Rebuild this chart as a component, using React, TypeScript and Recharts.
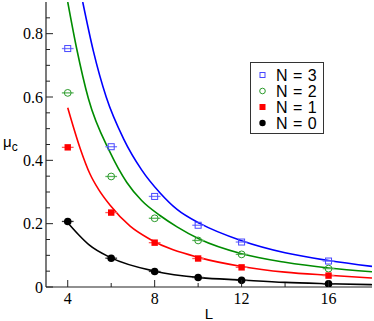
import React from 'react';
import { ComposedChart, Line, Scatter, XAxis, YAxis, ErrorBar, Legend } from 'recharts';

// ---- axis ticks ----
const xMajorTicks = [4, 8, 12, 16];
const xMinorTicks = [6, 10, 14];
const yMajorTicks = [0, 0.2, 0.4, 0.6, 0.8];
const yMinorTicks = [0.05, 0.1, 0.15, 0.25, 0.3, 0.35, 0.45, 0.5, 0.55, 0.65, 0.7, 0.75, 0.85];
const xDomain = [3, 18];
const yDomain = [0, 0.9];

// ---- legend ----
const seriesNames = ['N = 3', 'N = 2', 'N = 1', 'N = 0'];
const seriesColors = ['#0000ff', '#008c00', '#ff0000', '#000000'];
const markerColors = ['#4848ff', '#2a9a2a', '#ff0000', '#000000'];
const barColors = ['#7a7aff', '#5cb45c', '#ff5a5a', '#333333'];

// ---- measured points ----
const sizesL = [4, 6, 8, 10, 12, 16];
const muN3 = [0.753, 0.443, 0.286, 0.195, 0.142, 0.082];
const muN2 = [0.613, 0.349, 0.217, 0.147, 0.103, 0.058];
const muN1 = [0.441, 0.235, 0.14, 0.09, 0.062, 0.036];
const muN0 = [0.207, 0.091, 0.049, 0.03, 0.021, 0.01];
const errL = [0.27, 0.27, 0.27, 0.27, 0.27, 0.27];

// ---- fitted curves ----
const fitN3L = [4.69, 5.18, 5.77, 6.57, 7.4, 8.25, 9.03, 10.1, 12, 14, 16, 18];
const fitN3Mu = [0.9, 0.745, 0.6, 0.468, 0.37, 0.297, 0.245, 0.2, 0.146, 0.108, 0.0835, 0.065];
const fitN2L = [4.0, 4.42, 4.95, 5.95, 6.72, 7.4, 8.26, 9.03, 10.1, 12, 14, 16, 18];
const fitN2Mu = [0.9, 0.75, 0.595, 0.425, 0.33, 0.273, 0.225, 0.19, 0.15, 0.105, 0.078, 0.06, 0.048];
const fitN1L = [4.0, 4.58, 5.03, 5.41, 5.95, 6.87, 7.8, 10.1, 12, 14, 16, 18];
const fitN1Mu = [0.566, 0.436, 0.356, 0.309, 0.258, 0.192, 0.15, 0.092, 0.065, 0.047, 0.037, 0.0285];
const fitN0L = [4.0, 4.5, 5.0, 6, 8, 10.1, 12, 14, 16, 18];
const fitN0Mu = [0.203, 0.165, 0.132, 0.092, 0.05, 0.0295, 0.022, 0.0146, 0.0105, 0.0073];

const toPoints = (mu: number[]) => sizesL.map((L, i) => ({ L, mu: mu[i], err: errL[i] }));
const toCurve = (Ls: number[], mu: number[]) => Ls.map((L, i) => ({ L, mu: mu[i] }));

const pointSets = [toPoints(muN3), toPoints(muN2), toPoints(muN1), toPoints(muN0)];
const curveSets = [
  toCurve(fitN3L, fitN3Mu),
  toCurve(fitN2L, fitN2Mu),
  toCurve(fitN1L, fitN1Mu),
  toCurve(fitN0L, fitN0Mu),
];

const frame = '#222';
const serif = "'Liberation Serif', 'Times New Roman', serif";
const sans = "'Liberation Sans', Arial, sans-serif";

const isIn = (arr: number[], v: number) => arr.some((a) => Math.abs(a - v) < 1e-9);
const xTicks = [...xMajorTicks, ...xMinorTicks].sort((a, b) => a - b);
const yTicks = [...yMajorTicks, ...yMinorTicks].sort((a, b) => a - b);

const BottomTick = (props: any) => {
  const { x, y, payload } = props;
  const v = payload.value;
  const major = isIn(xMajorTicks, v);
  return (
    <g>
      <line x1={x} x2={x} y1={y} y2={y - (major ? 7 : 4)} stroke={frame} strokeWidth={1} />
      {major && (
        <text x={x} y={y + 16.5} textAnchor="middle" style={{ fontFamily: serif, fontSize: 16 }} fill="#000">
          {v}
        </text>
      )}
    </g>
  );
};

const TopTick = (props: any) => {
  const { x, y, payload } = props;
  const major = isIn(xMajorTicks, payload.value);
  return <line x1={x} x2={x} y1={y} y2={y + (major ? 7 : 4)} stroke={frame} strokeWidth={1} />;
};

const LeftTick = (props: any) => {
  const { x, y, payload } = props;
  const v = payload.value;
  const major = isIn(yMajorTicks, v);
  return (
    <g>
      <line x1={x} x2={x + (major ? 7 : 4)} y1={y} y2={y} stroke={frame} strokeWidth={1} />
      {major && (
        <text x={x - 3} y={y + 5.5} textAnchor="end" style={{ fontFamily: serif, fontSize: 16 }} fill="#000">
          {v === 0 ? '0' : v.toFixed(1)}
        </text>
      )}
    </g>
  );
};

const RightTick = (props: any) => {
  const { x, y, payload } = props;
  const major = isIn(yMajorTicks, payload.value);
  return <line x1={x} x2={x - (major ? 7 : 4)} y1={y} y2={y} stroke={frame} strokeWidth={1} />;
};

const makeShape = (idx: number) => (props: any) => {
  const { cx, cy } = props;
  const c = markerColors[idx];
  if (idx === 0) return <rect x={cx - 3} y={cy - 3} width={6} height={6} fill="none" stroke={c} strokeWidth={1} />;
  if (idx === 1) return <circle cx={cx} cy={cy} r={3.4} fill="none" stroke={c} strokeWidth={1} />;
  if (idx === 2) return <rect x={cx - 3.2} y={cy - 3.2} width={6.4} height={6.4} fill={c} />;
  return <circle cx={cx} cy={cy} r={3.8} fill={c} />;
};

const LegendSymbol = ({ idx, cx, cy }: { idx: number; cx: number; cy: number }) => {
  const c = markerColors[idx];
  if (idx === 0) return <rect x={cx - 2.5} y={cy - 2.5} width={5} height={5} fill="none" stroke={c} strokeWidth={1} />;
  if (idx === 1) return <circle cx={cx} cy={cy} r={2.8} fill="none" stroke={c} strokeWidth={1} />;
  if (idx === 2) return <rect x={cx - 3} y={cy - 3} width={6} height={6} fill={c} />;
  return <circle cx={cx} cy={cy} r={3.2} fill={c} />;
};

const renderLegend = () => (
  <div
    style={{
      width: 74,
      height: 72,
      border: '1px solid #333',
      background: '#fff',
      boxSizing: 'border-box',
    }}
  >
    <svg width={72} height={70} style={{ display: 'block' }}>
      {seriesNames.map((name, i) => (
        <g key={name}>
          <LegendSymbol idx={i} cx={11.5} cy={12 + i * 16} />
          <text
            x={25}
            y={12 + i * 16 + 5.6}
            style={{ fontFamily: sans, fontSize: 16, letterSpacing: 0.5 }}
            fill="#000"
          >
            {name}
          </text>
        </g>
      ))}
    </svg>
  </div>
);

export default function App() {
  return (
    <div style={{ position: 'absolute', left: 0, top: 0 }}>
      <ComposedChart width={374} height={321} margin={{ top: 2, right: 2, bottom: 0, left: 0 }}>
        <XAxis
          xAxisId="x"
          dataKey="L"
          type="number"
          orientation="bottom"
          domain={xDomain}
          allowDataOverflow
          ticks={xTicks}
          interval={0}
          tickSize={0}
          tickMargin={0}
          tickLine={false}
          axisLine={{ stroke: frame, strokeWidth: 1.2 }}
          tick={<BottomTick />}
          height={34}
          label={{
            content: () => (
              <text x={209} y={318.5} textAnchor="middle" style={{ fontFamily: sans, fontSize: 15 }} fill="#000">
                L
              </text>
            ),
          }}
        />
        <XAxis
          xAxisId="top"
          dataKey="L"
          type="number"
          orientation="top"
          domain={xDomain}
          allowDataOverflow
          ticks={xTicks}
          interval={0}
          tickSize={0}
          tickMargin={0}
          tickLine={false}
          axisLine={{ stroke: frame, strokeWidth: 1.2 }}
          tick={<TopTick />}
          height={0}
        />
        <YAxis
          yAxisId="y"
          type="number"
          orientation="left"
          domain={yDomain}
          allowDataOverflow
          ticks={yTicks}
          interval={0}
          tickSize={0}
          tickMargin={0}
          tickLine={false}
          axisLine={{ stroke: frame, strokeWidth: 1.2 }}
          tick={<LeftTick />}
          width={46}
          label={{
            content: () => (
              <text x={3} y={147} style={{ fontFamily: sans, fontSize: 15 }} fill="#000">
                μ
                <tspan style={{ fontSize: 12 }} dy={4}>
                  c
                </tspan>
              </text>
            ),
          }}
        />
        <YAxis
          yAxisId="right"
          type="number"
          orientation="right"
          domain={yDomain}
          allowDataOverflow
          ticks={yTicks}
          interval={0}
          tickSize={0}
          tickMargin={0}
          tickLine={false}
          axisLine={{ stroke: frame, strokeWidth: 1.2 }}
          tick={<RightTick />}
          width={0}
        />
        {curveSets.map((curve, i) => (
          <Line
            key={'c' + i}
            xAxisId="x"
            yAxisId="y"
            data={curve}
            dataKey="mu"
            type="monotone"
            stroke={seriesColors[i]}
            strokeWidth={1.6}
            dot={false}
            activeDot={false}
            legendType="none"
            isAnimationActive={false}
          />
        ))}
        {pointSets.map((pts, i) => (
          <Scatter
            key={'s' + i}
            name={seriesNames[i]}
            xAxisId="x"
            yAxisId="y"
            data={pts}
            dataKey="mu"
            fill={markerColors[i]}
            shape={makeShape(i)}
            isAnimationActive={false}
          >
            <ErrorBar dataKey="err" direction="x" width={0} stroke={barColors[i]} strokeWidth={1.3} />
          </Scatter>
        ))}
        <Legend
          layout="horizontal"
          align="center"
          verticalAlign="middle"
          wrapperStyle={{ left: 250, top: 62, width: 74, height: 72 }}
          content={renderLegend}
        />
      </ComposedChart>
    </div>
  );
}
